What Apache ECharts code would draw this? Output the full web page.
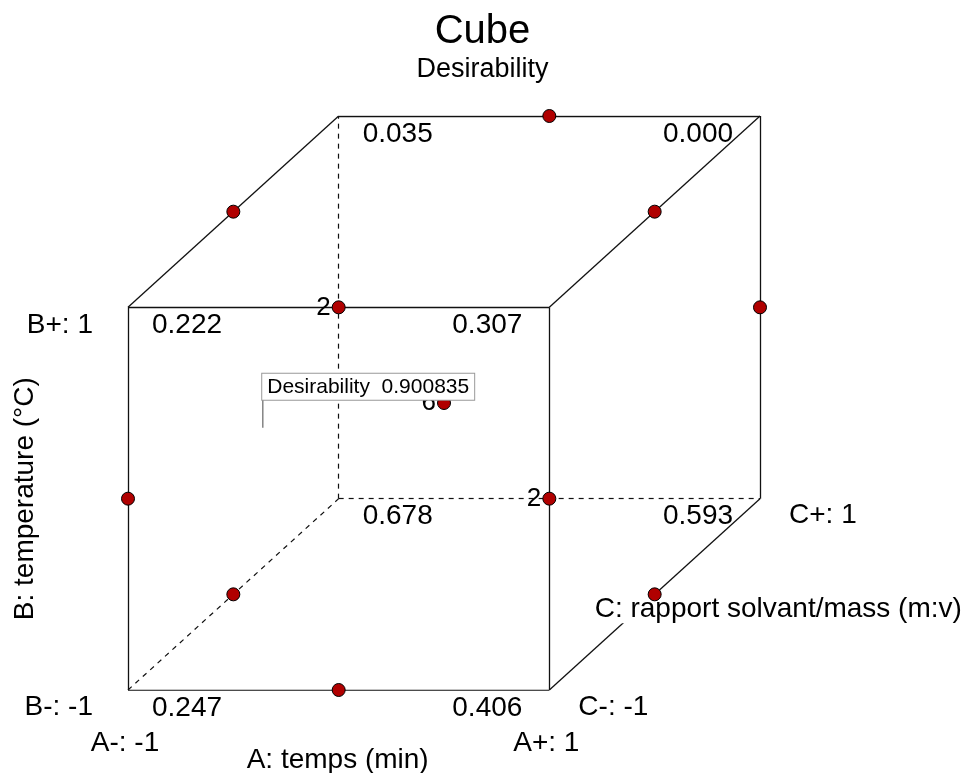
<!DOCTYPE html>
<html lang="en">
<head>
<meta charset="UTF-8">
<script src="https://cdn.jsdelivr.net/npm/echarts@6/dist/echarts.min.js"></script>
<title>Cube</title>
</head>
<body style="margin:0">
<div id="main" style="width:965px;height:773px;"></div>
<script>
// cube corners in coded units (A, B, C) and predicted desirability there
var cornerA = [-1, 1, -1, 1, -1, 1, -1, 1];
var cornerB = [-1, -1, 1, 1, -1, -1, 1, 1];
var cornerC = [-1, -1, -1, -1, 1, 1, 1, 1];
var cornerDesirability = ['0.247', '0.406', '0.222', '0.307', '0.678', '0.593', '0.035', '0.000'];

// design runs: edge midpoints + 6 centre points
var runA = [-1, 1, -1, 1, -1, 1, -1, 1, 0, 0, 0, 0, 0, 0, 0, 0, 0, 0];
var runB = [-1, -1, 1, 1, 0, 0, 0, 0, -1, 1, -1, 1, 0, 0, 0, 0, 0, 0];
var runC = [0, 0, 0, 0, -1, -1, 1, 1, -1, -1, 1, 1, 0, 0, 0, 0, 0, 0];

// flagged prediction
var flagFactors = [-0.36, 0.37, -1];
var flagText = 'Desirability  0.900835';

var levelLabels = ['A-: -1', 'A+: 1', 'B-: -1', 'B+: 1', 'C-: -1', 'C+: 1'];
var factorNames = ['A: temps (min)', 'B: temperature (\u00b0C)', 'C: rapport solvant/mass (m:v)'];

var FONT = "'Liberation Sans', Arial, sans-serif";

// oblique projection of the cube onto the plane
function proj(a, b, c) {
    return [a + 0.5 * (c + 1), b + 0.5 * (c + 1)];
}

// edges: corner pairs that differ in one factor; those touching the hidden corner are dashed
var solidEdges = [], dashedEdges = [];
for (var i = 0; i < 8; i++) {
    for (var j = i + 1; j < 8; j++) {
        var diff = (cornerA[i] != cornerA[j]) + (cornerB[i] != cornerB[j]) + (cornerC[i] != cornerC[j]);
        if (diff != 1) continue;
        var e = { coords: [proj(cornerA[i], cornerB[i], cornerC[i]), proj(cornerA[j], cornerB[j], cornerC[j])] };
        if (i == 4 || j == 4) dashedEdges.push(e); else solidEdges.push(e);
    }
}

var cornerData = cornerA.map(function (a, k) {
    return {
        value: proj(a, cornerB[k], cornerC[k]),
        name: cornerDesirability[k],
        label: { offset: [a < 0 ? 59 : -62, 18] }
    };
});

// merge runs that land on the same projected spot
var runMap = {};
runA.forEach(function (a, k) {
    var p = proj(a, runB[k], runC[k]);
    var key = p.join(',');
    if (!runMap[key]) runMap[key] = [p[0], p[1], 0];
    runMap[key][2]++;
});
var runData = Object.keys(runMap).map(function (k) { return runMap[k]; });

var levelData = [
    { value: proj(-1, -1, -1), name: levelLabels[0], label: { offset: [-3, 53] } },
    { value: proj(1, -1, -1), name: levelLabels[1], label: { offset: [-3, 53] } },
    { value: proj(-1, -1, -1), name: levelLabels[2], label: { align: 'right', offset: [-35, 17] } },
    { value: proj(-1, 1, -1), name: levelLabels[3], label: { align: 'right', offset: [-35, 18] } },
    { value: proj(1, -1, -1), name: levelLabels[4], label: { align: 'left', offset: [29, 17] } },
    { value: proj(1, -1, 1), name: levelLabels[5], label: { align: 'left', offset: [29, 17] } },
    { value: proj(0, -1, -1), name: factorNames[0], label: { offset: [-1, 70] } },
    { value: proj(-1, 0, -1), name: factorNames[1], label: { rotate: 90, offset: [0, -103] } },
    { value: proj(1, -1, 0), name: factorNames[2],
      label: { align: 'left', offset: [-62, 15], backgroundColor: '#fff', padding: [0, 2] } }
];

var chart = echarts.init(document.getElementById('main'));
var option = {
    animation: false,
    backgroundColor: '#fff',
    title: {
        text: 'Cube',
        subtext: 'Desirability',
        left: 'center',
        top: 7,
        itemGap: 4,
        textStyle: { fontSize: 40, fontWeight: 'normal', color: '#000', fontFamily: FONT },
        subtextStyle: { fontSize: 27, color: '#000', fontFamily: FONT }
    },
    grid: { left: 128, right: 205, top: 116, bottom: 83 },
    xAxis: { type: 'value', min: -1, max: 2, show: false },
    yAxis: { type: 'value', min: -1, max: 2, show: false },
    series: [
        {
            type: 'lines',
            coordinateSystem: 'cartesian2d',
            z: 2,
            lineStyle: { color: '#111', width: 1.3, opacity: 1 },
            data: solidEdges
        },
        {
            type: 'lines',
            coordinateSystem: 'cartesian2d',
            z: 2,
            lineStyle: { color: '#111', width: 1.2, type: [5, 5], opacity: 1 },
            data: dashedEdges
        },
        {
            type: 'scatter',
            z: 3,
            symbolSize: 1,
            itemStyle: { color: 'rgba(0,0,0,0)', opacity: 1 },
            label: {
                show: true, position: 'inside', formatter: '{b}',
                fontSize: 28, color: '#000', fontFamily: FONT
            },
            data: cornerData
        },
        {
            type: 'scatter',
            z: 3,
            symbolSize: 1,
            itemStyle: { color: 'rgba(0,0,0,0)', opacity: 1 },
            label: {
                show: true, position: 'inside', formatter: '{b}',
                fontSize: 28, color: '#000', fontFamily: FONT
            },
            data: levelData
        },
        {
            type: 'scatter',
            z: 4,
            symbolSize: 13,
            itemStyle: { color: '#b00000', borderColor: '#000', borderWidth: 1, opacity: 1 },
            label: {
                show: true, position: 'left', distance: 1,
                formatter: function (p) { return p.value[2] > 1 ? p.value[2] : ''; },
                fontSize: 26, color: '#000', fontFamily: FONT
            },
            data: runData
        },
        {
            type: 'scatter',
            z: 5,
            symbol: 'rect',
            symbolSize: [1.2, 28],
            symbolOffset: [0, '-50%'],
            itemStyle: { color: '#666', opacity: 1 },
            label: {
                show: true, position: [0, 0], align: 'left', verticalAlign: 'bottom',
                formatter: flagText,
                fontSize: 21, color: '#000', fontFamily: FONT,
                backgroundColor: '#fff', borderColor: '#999', borderWidth: 1,
                padding: [3, 5, 2, 5]
            },
            data: [proj(flagFactors[0], flagFactors[1], flagFactors[2])]
        }
    ]
};
chart.setOption(option);
</script>
</body>
</html>
